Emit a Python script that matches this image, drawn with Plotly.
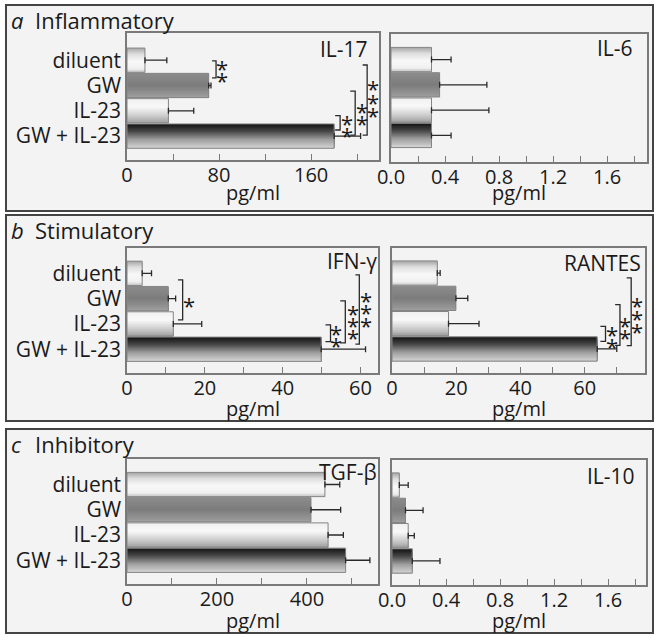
import plotly.graph_objects as go

# ---------------- data ----------------
categories = ["diluent", "GW", "IL-23", "GW + IL-23"]

il17_mean = [15.6, 71.0, 36.0, 180.0]
il17_sd = [19.0, 2.0, 22.0, 23.0]
il6_mean = [0.30, 0.36, 0.30, 0.30]
il6_sd = [0.145, 0.35, 0.425, 0.145]
ifng_mean = [3.9, 10.6, 11.9, 49.9]
ifng_sd = [2.4, 1.9, 7.3, 11.4]
rantes_mean = [14.1, 19.9, 17.6, 63.9]
rantes_sd = [0.9, 3.7, 9.5, 6.1]
tgfb_mean = [440.0, 409.0, 447.0, 486.0]
tgfb_sd = [33.0, 66.0, 34.0, 54.0]
il10_mean = [0.054, 0.10, 0.12, 0.15]
il10_sd = [0.066, 0.13, 0.045, 0.205]

il17_ticks = [0, 40, 80, 120, 160, 200]
il17_ticklabels = ["0", "", "80", "", "160", ""]
small_ticks = [0, 0.2, 0.4, 0.6, 0.8, 1.0, 1.2, 1.4, 1.6, 1.8]
small_ticklabels = ["0.0", "", "0.4", "", "0.8", "", "1.2", "", "1.6", ""]
ifng_ticks = [0, 10, 20, 30, 40, 50, 60]
ifng_ticklabels = ["0", "", "20", "", "40", "", "60"]
rantes_ticks = [0, 10, 20, 30, 40, 50, 60, 70]
rantes_ticklabels = ["0", "", "20", "", "40", "", "60", ""]
tgfb_ticks = [0, 100, 200, 300, 400, 500]
tgfb_ticklabels = ["0", "", "200", "", "400", ""]

panel_titles = [("a", "Inflammatory"), ("b", "Stimulatory"), ("c", "Inhibitory")]
unit_label = "pg/ml"

# significance brackets: (arm x, vertical x, y top, y bottom, star x, star y list)
il17_sig = [
    (73.9, 77.4, 0.03, 0.70, 82.6, [0.11, 0.58]),
    (180.9, 185.2, 2.19, 2.76, 191.0, [2.28, 2.76]),
    (194.0, 198.3, 1.22, 2.96, 204.0, [1.81, 2.27]),
    (204.8, 208.7, 0.19, 2.96, 214.0, [0.90, 1.45, 1.97]),
]
ifng_sig = [
    (13.1, 14.3, 0.26, 1.84, 15.9, [1.05]),
    (51.0, 52.3, 2.04, 2.70, 53.8, [2.16, 2.63]),
    (54.8, 56.1, 1.09, 2.75, 58.2, [1.37, 1.84, 2.30]),
    (58.7, 59.7, 0.06, 2.80, 61.5, [0.85, 1.33, 1.84]),
]
rantes_sig = [
    (64.9, 66.5, 2.11, 2.70, 68.6, [2.20, 2.70]),
    (69.5, 71.0, 1.25, 2.86, 72.6, [1.84, 2.34]),
    (73.1, 74.5, 0.19, 2.87, 76.2, [1.05, 1.58, 2.11]),
]

# ---------------- layout helpers ----------------
W, H = 660, 640
FONT = "Open Sans"
TXT = "#1a1a1a"
AXC = "#7a7a7a"


def px(x):
    return x / W


def py(y):
    return 1 - y / H


# gradient stops per category (top -> bottom of the bar)
grad_stops = [
    [(0.0, (165, 165, 165)), (0.25, (222, 222, 222)), (0.55, (248, 248, 248)), (0.85, (240, 240, 240)), (1.0, (205, 205, 205))],
    [(0.0, (140, 140, 140)), (0.5, (124, 124, 124)), (1.0, (158, 158, 158))],
    [(0.0, (240, 240, 240)), (0.35, (248, 248, 248)), (0.7, (205, 205, 205)), (1.0, (160, 160, 160))],
    [(0.0, (18, 18, 18)), (0.3, (70, 70, 70)), (0.65, (160, 160, 160)), (1.0, (212, 212, 212))],
]


def grad(stops, t):
    for (t0, c0), (t1, c1) in zip(stops[:-1], stops[1:]):
        if t <= t1:
            f = (t - t0) / (t1 - t0) if t1 > t0 else 0
            c = [round(a + (b - a) * f) for a, b in zip(c0, c1)]
            return "rgb(%d,%d,%d)" % tuple(c)
    return "rgb(%d,%d,%d)" % stops[-1][1]


panels = [
    dict(label="IL-17", mean=il17_mean, sd=il17_sd, box=(127, 379, 33, 160), xr=[0, 219],
         ticks=il17_ticks, tl=il17_ticklabels, yr=[3.945, -1.075], lab=(370, 48.7), sig=il17_sig,
         left=True, unit_y=193),
    dict(label="IL-6", mean=il6_mean, sd=il6_sd, box=(391, 647, 34, 162), xr=[0, 1.896],
         ticks=small_ticks, tl=small_ticklabels, yr=[4.05, -1.01], lab=(635, 48.3), sig=[],
         left=False, unit_y=193),
    dict(label="IFN-γ", mean=ifng_mean, sd=ifng_sd, box=(127, 378, 248, 373), xr=[0, 64.5],
         ticks=ifng_ticks, tl=ifng_ticklabels, yr=[3.94, -1.0], lab=(379, 260.8), sig=ifng_sig,
         left=True, unit_y=408),
    dict(label="RANTES", mean=rantes_mean, sd=rantes_sd, box=(392, 645, 248, 373), xr=[0, 78.8],
         ticks=rantes_ticks, tl=rantes_ticklabels, yr=[3.95, -0.99], lab=(643, 262.5), sig=rantes_sig,
         left=False, unit_y=408),
    dict(label="TGF-β", mean=tgfb_mean, sd=tgfb_sd, box=(127, 378, 459, 584), xr=[0, 558],
         ticks=tgfb_ticks, tl=tgfb_ticklabels, yr=[3.94, -1.01], lab=(379, 472), sig=[],
         left=True, unit_y=620),
    dict(label="IL-10", mean=il10_mean, sd=il10_sd, box=(392, 646, 460, 585), xr=[0, 1.88],
         ticks=small_ticks, tl=small_ticklabels, yr=[3.95, -0.99], lab=(637, 475.5), sig=[],
         left=False, unit_y=620),
]

fig = go.Figure()
shapes = []
annotations = []
layout_axes = {}

# panel frames
frames = [(6, 653, 5, 211), (6, 653, 215, 421), (6, 653, 429, 633)]
title_y = [19.5, 230, 443.7]
for (l, r, t, b), ty, (letter, title) in zip(frames, title_y, panel_titles):
    shapes.append(dict(type="rect", xref="paper", yref="paper", x0=px(l), x1=px(r), y0=py(b), y1=py(t),
                       line=dict(color="#444444", width=2), fillcolor="#f3f3f3", layer="below"))
    annotations.append(dict(xref="paper", yref="paper", x=px(9), y=py(ty), xanchor="left", yanchor="middle",
                            text="<i>%s</i>" % letter, showarrow=False,
                            font=dict(family=FONT, size=22, color=TXT)))
    annotations.append(dict(xref="paper", yref="paper", x=px(33), y=py(ty), xanchor="left", yanchor="middle",
                            text=title, showarrow=False, font=dict(family=FONT, size=22, color=TXT)))

NSTRIP = 26
BW = 0.96
ypos = list(range(len(categories)))

for i, p in enumerate(panels, start=1):
    xa = "x" if i == 1 else "x%d" % i
    ya = "y" if i == 1 else "y%d" % i
    l, r, t, b = p["box"]
    # gradient strips
    for k in range(NSTRIP):
        t0 = k / NSTRIP
        tm = (k + 0.5) / NSTRIP
        cols = [grad(grad_stops[c], tm) for c in range(len(categories))]
        fig.add_trace(go.Bar(x=p["mean"], y=ypos, orientation="h", offset=-BW / 2 + t0 * BW,
                             width=BW * (1 - t0), marker=dict(color=cols, line=dict(width=0)),
                             xaxis=xa, yaxis=ya, showlegend=False, hoverinfo="skip"))
    # outline + error bars
    fig.add_trace(go.Bar(x=p["mean"], y=ypos, orientation="h", width=BW,
                         marker=dict(color="rgba(0,0,0,0)", line=dict(color="#858585", width=1)),
                         error_x=dict(type="data", array=p["sd"], arrayminus=[0] * len(p["sd"]),
                                      symmetric=False, color="#2a2a2a", thickness=1.3, width=3),
                         xaxis=xa, yaxis=ya, showlegend=False, hoverinfo="skip"))

    kx = "xaxis" if i == 1 else "xaxis%d" % i
    ky = "yaxis" if i == 1 else "yaxis%d" % i
    layout_axes[kx] = dict(domain=[px(l), px(r)], anchor=ya, range=p["xr"], tickvals=p["ticks"],
                           ticktext=p["tl"], ticks="inside", ticklen=6, tickcolor=AXC, tickwidth=1.2,
                           showline=True, linecolor=AXC, linewidth=1.5, mirror=True, showgrid=False,
                           zeroline=False, tickfont=dict(family=FONT, size=20, color=TXT), fixedrange=True,
                           automargin=False, ticklabelstandoff=-4)
    layout_axes[ky] = dict(domain=[py(b), py(t)], anchor=xa, range=p["yr"], tickvals=ypos,
                           ticktext=categories, showticklabels=p["left"], ticks="", showline=True,
                           linecolor=AXC, linewidth=1.5, mirror=True, showgrid=False, zeroline=False,
                           tickfont=dict(family=FONT, size=21, color=TXT), fixedrange=True,
                           automargin=False)

    annotations.append(dict(xref="paper", yref="paper", x=px(p["lab"][0]), y=py(p["lab"][1]),
                            xanchor="right", yanchor="middle", text=p["label"], showarrow=False,
                            font=dict(family=FONT, size=21, color=TXT)))
    annotations.append(dict(xref="paper", yref="paper", x=px((l + r) / 2), y=py(p["unit_y"]),
                            xanchor="center", yanchor="middle", text=unit_label, showarrow=False,
                            font=dict(family=FONT, size=20, color=TXT)))

    for (xarm, xv, yt, yb, sx, sys) in p["sig"]:
        shapes.append(dict(type="path", xref=xa, yref=ya,
                           path="M %g,%g L %g,%g L %g,%g L %g,%g" % (xarm, yt, xv, yt, xv, yb, xarm, yb),
                           line=dict(color="#2a2a2a", width=1.3)))
        for sy in sys:
            annotations.append(dict(xref=xa, yref=ya, x=sx, y=sy, text="*", showarrow=False,
                                    xanchor="center", yanchor="middle", yshift=-5,
                                    font=dict(family=FONT, size=22, color=TXT)))

fig.update_layout(width=W, height=H, margin=dict(l=0, r=0, t=0, b=0, pad=0, autoexpand=False),
                  paper_bgcolor="#ffffff", autosize=False,
                  plot_bgcolor="#f7f7f7", barmode="overlay", showlegend=False,
                  shapes=shapes, annotations=annotations, **layout_axes)

fig.write_html("out.html", config={"displayModeBar": False},
               post_script="document.body.style.margin='0';")
